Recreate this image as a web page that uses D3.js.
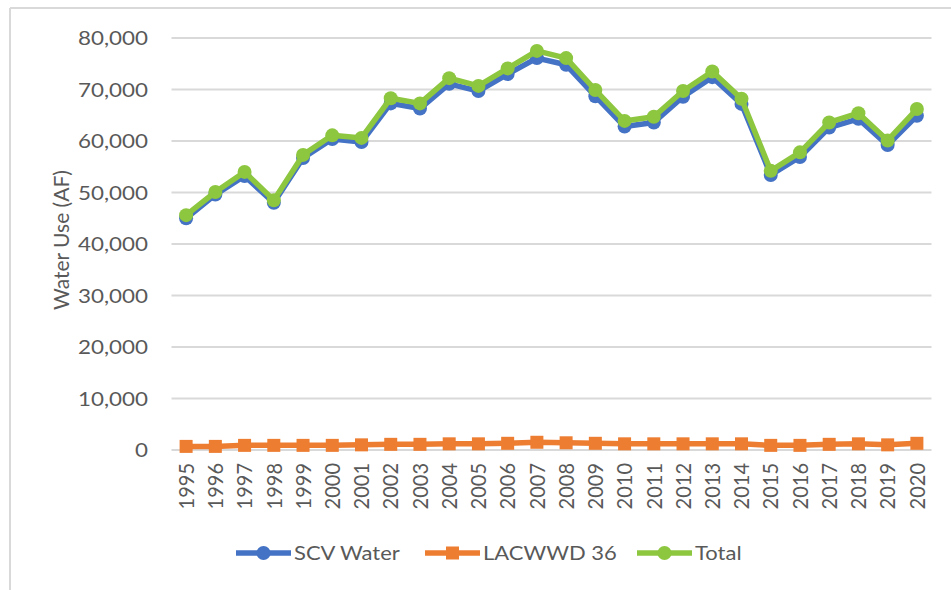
<!DOCTYPE html>
<html><head><meta charset="utf-8">
<script src="https://cdn.jsdelivr.net/npm/d3@7"></script>
<style>
body{margin:0;background:#fff;}
text{font-family:Lato,"Open Sans",sans-serif;fill:#595959;}
</style></head>
<body><svg id="c" width="951" height="590"></svg>
<script>
const years = ["1995","1996","1997","1998","1999","2000","2001","2002","2003","2004","2005","2006","2007","2008","2009","2010","2011","2012","2013","2014","2015","2016","2017","2018","2019","2020"];
const scvWater = [45000,49600,53200,48000,56700,60400,59800,67300,66300,71100,69700,73000,76100,74800,68700,62800,63600,68600,72400,67200,53400,56900,62600,64300,59200,64900];
const lacwwd36 = [700,700,900,900,900,900,1000,1100,1100,1200,1200,1300,1500,1400,1300,1200,1200,1200,1200,1200,900,900,1100,1200,1000,1300];
const total = [45600,50100,54000,48500,57300,61100,60600,68300,67300,72200,70700,74100,77500,76100,69900,63900,64700,69700,73500,68200,54200,57800,63600,65400,60100,66200];
const yTicks = [0,10000,20000,30000,40000,50000,60000,70000,80000];
const seriesNames = ["SCV Water","LACWWD 36","Total"];
const seriesColors = ["#4472C4","#ED7D31","#8DC63F"];

const svg = d3.select("#c");
// frame lines
svg.append("line").attr("x1",10).attr("x2",951).attr("y1",8).attr("y2",8).attr("stroke","#d9d9d9").attr("stroke-width",2);
svg.append("line").attr("x1",10).attr("x2",10).attr("y1",8).attr("y2",590).attr("stroke","#d9d9d9").attr("stroke-width",2);

const x = d3.scalePoint().domain(years).range([171.5,931.5]).padding(0.5);
const y = d3.scaleLinear().domain([0,80000]).range([450,38]);

// gridlines
svg.append("g").selectAll("line").data(yTicks).join("line")
  .attr("x1",171.5).attr("x2",931.5).attr("y1",d=>y(d)).attr("y2",d=>y(d))
  .attr("stroke","#d9d9d9").attr("stroke-width",2);

// y axis labels
const fmt = d3.format(",");
svg.append("g").selectAll("text").data(yTicks).join("text")
  .attr("transform",d=>`translate(148,${y(d)}) scale(1.12,1)`)
  .attr("dy","0.35em").attr("text-anchor","end")
  .attr("font-size",20).text(d=>fmt(d));

svg.append("text").attr("transform","translate(62,240) rotate(-90)")
  .attr("text-anchor","middle").attr("dy","0.35em").attr("font-size",21).text("Water Use (AF)");

// x axis labels
svg.append("g").selectAll("text").data(years).join("text")
  .attr("transform",d=>`translate(${x(d)},463) rotate(-90) scale(1,1.1)`)
  .attr("text-anchor","end").attr("dy","0.35em").attr("font-size",20).text(d=>d);

const line = d3.line().x((d,i)=>x(years[i])).y(d=>y(d));
const data = [scvWater, lacwwd36, total];
const order = [1,0,2];
order.forEach(k=>{
  const g = svg.append("g");
  g.append("path").attr("d",line(data[k])).attr("fill","none")
    .attr("stroke",seriesColors[k]).attr("stroke-width",5.5).attr("stroke-linejoin","round");
  if (k===1) {
    g.selectAll("rect").data(data[k]).join("rect")
      .attr("x",(d,i)=>x(years[i])-6.5).attr("y",d=>y(d)-6.5)
      .attr("width",13).attr("height",13).attr("fill",seriesColors[k]);
  } else {
    g.selectAll("circle").data(data[k]).join("circle")
      .attr("cx",(d,i)=>x(years[i])).attr("cy",d=>y(d)).attr("r",7).attr("fill",seriesColors[k]);
  }
});

// legend
const legX = [236,425,637];
const leg = svg.append("g");
seriesNames.forEach((n,k)=>{
  const lx = legX[k], ly = 553;
  leg.append("line").attr("x1",lx).attr("x2",lx+55).attr("y1",ly).attr("y2",ly)
    .attr("stroke",seriesColors[k]).attr("stroke-width",5.5);
  if (k===1) leg.append("rect").attr("x",lx+27.5-6.5).attr("y",ly-6.5).attr("width",13).attr("height",13).attr("fill",seriesColors[k]);
  else leg.append("circle").attr("cx",lx+27.5).attr("cy",ly).attr("r",7).attr("fill",seriesColors[k]);
  leg.append("text").attr("transform",`translate(${lx+58},${ly}) scale(1.1,1)`)
    .attr("dy","0.35em").attr("font-size",20).text(n);
});
</script></body></html>
